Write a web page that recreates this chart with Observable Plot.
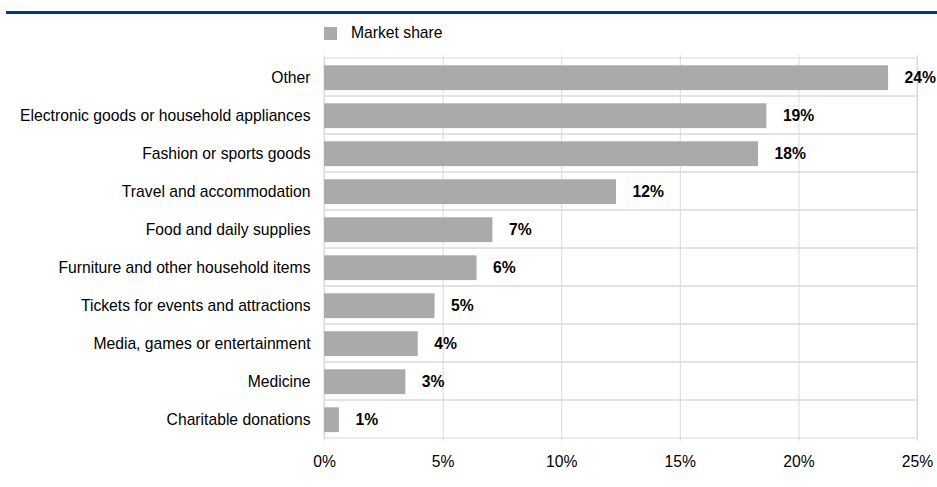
<!DOCTYPE html>
<html>
<head>
<meta charset="utf-8">
<script src="https://cdn.jsdelivr.net/npm/d3@7"></script>
<script src="https://cdn.jsdelivr.net/npm/@observablehq/plot@0.6"></script>
<style>
  html, body { margin: 0; padding: 0; background: #fff; }
  #wrap { position: relative; width: 937px; height: 487px; font-family: Arial, "Liberation Sans", sans-serif; }
  #topline { position: absolute; left: 6px; top: 11px; width: 931px; height: 3px; background: #003299; }
  #legend { position: absolute; left: 324px; top: 24px; display: flex; align-items: center; font-size: 15.7px; color: #000; }
  #legend .sw { width: 13px; height: 13px; background: #aaaaaa; margin-right: 14px; }
  #chart { position: absolute; left: 0; top: 0; }
</style>
</head>
<body>
<div id="wrap">
  <div id="chart"></div>
  <div id="topline"></div>
  <div id="legend"><span class="sw"></span><span id="legend-label"></span></div>
</div>
<script>
const seriesName = "Market share";
const categories = [
  "Other",
  "Electronic goods or household appliances",
  "Fashion or sports goods",
  "Travel and accommodation",
  "Food and daily supplies",
  "Furniture and other household items",
  "Tickets for events and attractions",
  "Media, games or entertainment",
  "Medicine",
  "Charitable donations"
];
const shares = [23.78, 18.65, 18.3, 12.31, 7.1, 6.43, 4.66, 3.95, 3.43, 0.63];
const xTicks = [0, 5, 10, 15, 20, 25];

const data = categories.map((c, i) => ({category: c, value: shares[i]}));

document.getElementById("legend-label").textContent = seriesName;

const gridColor = "#d9d9d9";
const plot = Plot.plot({
  width: 937,
  height: 487,
  marginTop: 55,
  marginBottom: 46,
  marginLeft: 324,
  marginRight: 20,
  style: {
    fontFamily: "Arial, 'Liberation Sans', sans-serif",
    fontSize: "15.7px",
    color: "#000",
    background: "transparent",
    overflow: "visible"
  },
  x: { domain: [0, 25], label: null },
  y: { domain: categories, padding: 0, label: null },
  marks: [
    Plot.gridX(xTicks, { stroke: gridColor, strokeOpacity: 1 }),
    Plot.barX(categories, { x1: 0, x2: 25, y: d => d, fill: "none", stroke: gridColor, strokeWidth: 1 }),
    Plot.barX(data, { x: "value", y: "category", fill: "#aaaaaa", insetTop: 7.3, insetBottom: 5.9 }),
    Plot.text(data, {
      x: "value", y: "category",
      text: d => Math.round(d.value) + "%",
      textAnchor: "start", dx: 16, fontWeight: "bold", fill: "#000"
    }),
    Plot.axisY({ tickSize: 0, tickPadding: 14, label: null }),
    Plot.axisX(xTicks, { tickSize: 0, tickPadding: 14, tickFormat: d => d + "%", label: null })
  ]
});
document.getElementById("chart").appendChild(plot);
</script>
</body>
</html>
